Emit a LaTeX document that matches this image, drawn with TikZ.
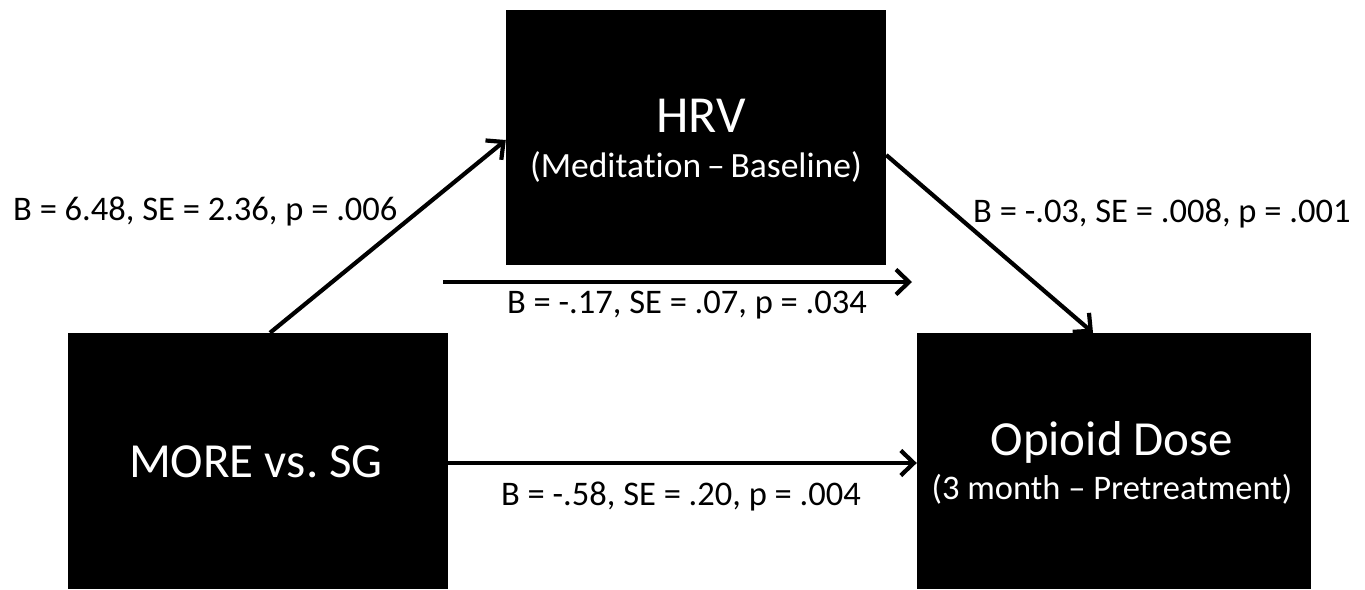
\documentclass[tikz,border=0pt]{standalone}
\usepackage{fontspec}
\setmainfont[Ligatures={NoCommon,NoDiscretionary}]{Carlito}
\usetikzlibrary{arrows.meta}
\begin{document}
\frenchspacing
\begin{tikzpicture}[x=1pt,y=-1pt,
  box/.style={fill=black,draw=none,inner sep=0pt},
  boxtext/.style={text=white,inner sep=0pt,anchor=base},
  lbl/.style={inner sep=0pt,font=\fontsize{34.5}{38}\selectfont},
  conn/.style={line width=4.2pt,-{Straight Barb[length=13pt,width=25pt,line width=4.2pt]}}]
\useasboundingbox (0,0) rectangle (1365,589);
\fill[white] (0,0) rectangle (1365,589);
% boxes
\node[box,minimum width=380pt,minimum height=255pt] (hrv) at (696,137.5) {};
\node[box,minimum width=380pt,minimum height=256pt] (more) at (258,461) {};
\node[box,minimum width=394pt,minimum height=256pt] (opi) at (1114,461) {};
% box texts
\node[boxtext,font=\fontsize{52}{56}\selectfont] (hrvt) at (701,132) {HRV};
\node[boxtext,font=\fontsize{35.5}{38}\selectfont] (hrvs) at (696,177) {(Meditation\,–\,Baseline)};
\node[boxtext,font=\fontsize{49}{52}\selectfont] (moret) at (256,477) {MORE vs. SG};
\node[boxtext,font=\fontsize{49}{52}\selectfont] (opit) at (1112,455) {Opioid Dose};
\node[boxtext,font=\fontsize{34.5}{38}\selectfont] (opis) at (1112,499) {(3 month – Pretreatment)};
% connector ends
\coordinate (a0) at ([xshift=12pt]more.north);
\coordinate (a1) at ([yshift=-2.5pt]hrv.west);
\coordinate (b0) at ([yshift=-17.5pt]hrv.east);
\coordinate (b1) at ([xshift=-21pt]opi.north);
\coordinate (c0) at (443,282);
\coordinate (c1) at (912,282);
\draw[conn] (a0) -- (a1);
\draw[conn] (b0) -- (b1);
\draw[conn] (c0) -- (c1);
\draw[conn] (more.east |- 0,463) -- (opi.west |- 0,463);
% labels
\node[lbl,anchor=base west] (la) at (13,220) {B = 6.48, SE = 2.36, p = .006};
\node[lbl,anchor=base west] (lb) at (973,222) {B = -.03, SE = .008, p = .001};
\node[lbl,anchor=base] (lc) at (687,313) {B = -.17, SE = .07, p = .034};
\node[lbl,anchor=base] (ld) at (681,505) {B = -.58, SE = .20, p = .004};
\end{tikzpicture}
\end{document}
